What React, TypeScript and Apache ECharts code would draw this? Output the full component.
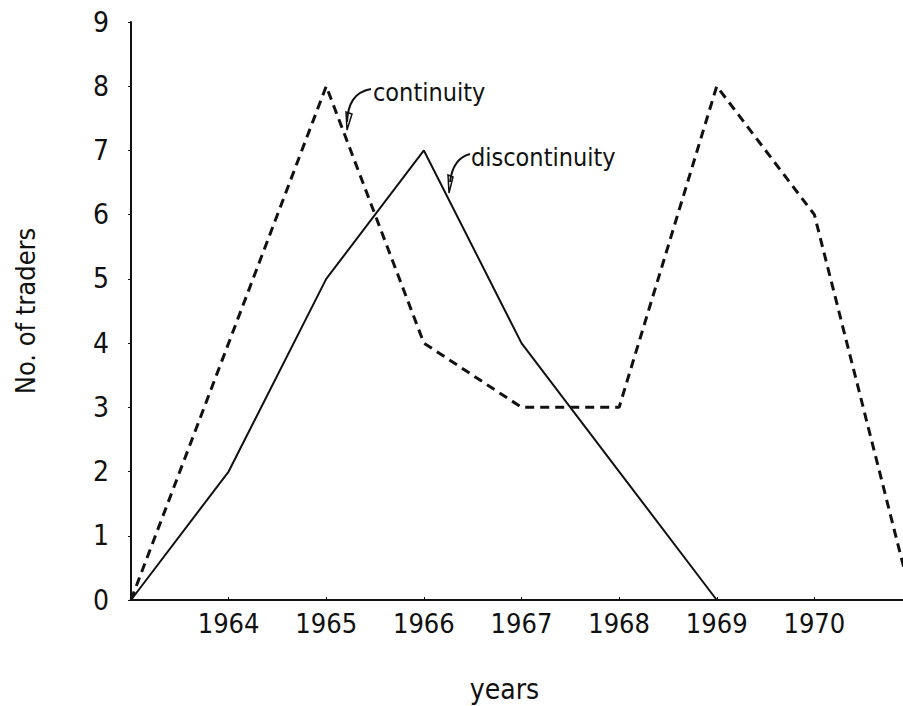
import React, { useEffect, useRef } from "react";
import * as echarts from "echarts";

const years = ["1963", "1964", "1965", "1966", "1967", "1968", "1969", "1970", "1971"];
const continuity = [0, null, 8, 4, 3, 3, 8, 6, 0];
const discontinuity = [0, 2, 5, 7, 4, 2, 0, null, null];
const yTicks = [0, 1, 2, 3, 4, 5, 6, 7, 8, 9];

const numFont = "'Liberation Sans Narrow', 'DejaVu Sans Condensed', sans-serif";
const txtFont = "'DejaVu Sans Condensed', 'DejaVu Sans', sans-serif";
const ink = "#111";

export default function App() {
  const ref = useRef<HTMLDivElement>(null);
  useEffect(() => {
    document.body.style.margin = "0";
    const chart = echarts.init(ref.current!, null, { renderer: "svg" });
    chart.setOption({
      animation: false,
      backgroundColor: "#fff",
      grid: { left: 131, top: 22, width: 781, height: 578, containLabel: false, outerBoundsMode: "none" },
      xAxis: {
        type: "category",
        data: years,
        boundaryGap: false,
        name: "years",
        nameLocation: "middle",
        nameGap: 75,
        nameTextStyle: { fontFamily: txtFont, fontSize: 28, color: ink, padding: [0, 34, 0, 0] },
        axisLine: { lineStyle: { color: ink, width: 2 } },
        axisTick: { inside: true, length: 3, lineStyle: { color: ink } },
        axisLabel: {
          fontFamily: numFont,
          fontSize: 27,
          color: ink,
          margin: 10,
          interval: 0,
          formatter: (v: string, i: number) => (i === 0 || i === years.length - 1 ? "" : v),
        },
        splitLine: { show: false },
      },
      yAxis: {
        type: "value",
        min: yTicks[0],
        max: yTicks[yTicks.length - 1],
        interval: 1,
        name: "No. of traders",
        nameLocation: "middle",
        nameGap: 92,
        nameTextStyle: { fontFamily: txtFont, fontSize: 27, color: ink },
        axisLine: { show: true, lineStyle: { color: ink, width: 2 } },
        axisTick: { show: true, length: 3, lineStyle: { color: ink } },
        axisLabel: { fontFamily: numFont, fontSize: 28, color: ink, margin: 22 },
        splitLine: { show: false },
      },
      series: [
        {
          name: "continuity",
          type: "line",
          data: continuity,
          connectNulls: true,
          showSymbol: false,
          symbol: "none",
          lineStyle: { color: ink, width: 3, type: [9, 6] },
          z: 3,
        },
        {
          name: "discontinuity",
          type: "line",
          data: discontinuity,
          showSymbol: false,
          symbol: "none",
          lineStyle: { color: ink, width: 2 },
          z: 3,
        },
      ],
      graphic: [
        { type: "text", x: 373, y: 92, style: { text: "continuity", fontFamily: txtFont, fontSize: 25, fill: ink, verticalAlign: "middle", align: "left" } },
        { type: "bezierCurve", shape: { x1: 371, y1: 89, cpx1: 354, cpy1: 92, cpx2: 348, cpy2: 104, x2: 347, y2: 122 }, style: { stroke: ink, lineWidth: 2, fill: "none" } },
        { type: "polygon", shape: { points: [[346, 112], [352, 114], [347, 130]] }, style: { stroke: ink, lineWidth: 1.5, fill: "none" } },
        { type: "text", x: 471, y: 157, style: { text: "discontinuity", fontFamily: txtFont, fontSize: 25, fill: ink, verticalAlign: "middle", align: "left" } },
        { type: "bezierCurve", shape: { x1: 470, y1: 154, cpx1: 458, cpy1: 157, cpx2: 452, cpy2: 166, x2: 450, y2: 182 }, style: { stroke: ink, lineWidth: 2, fill: "none" } },
        { type: "polygon", shape: { points: [[448, 175], [453, 177], [449, 193]] }, style: { stroke: ink, lineWidth: 1.5, fill: "none" } },
      ],
    });
    return () => chart.dispose();
  }, []);
  return <div ref={ref} style={{ position: "absolute", left: 0, top: 0, width: 903, height: 706 }} />;
}
